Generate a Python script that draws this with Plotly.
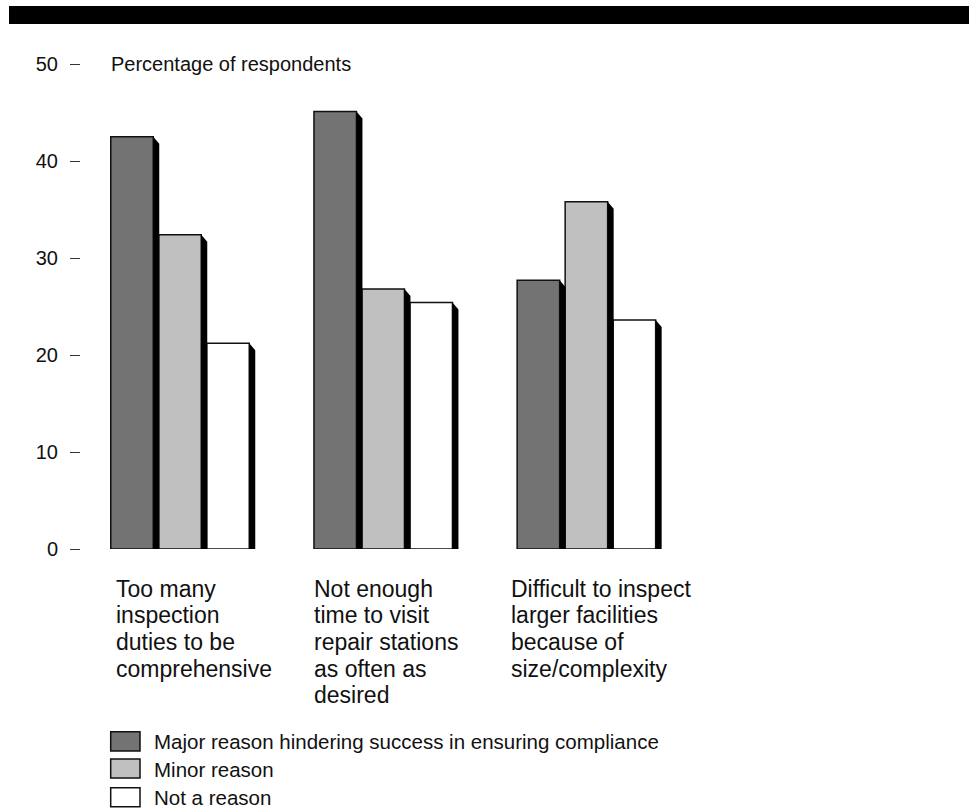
import plotly.graph_objects as go

# ---- data -------------------------------------------------------------
categories = [
    ["Too many", "inspection", "duties to be", "comprehensive"],
    ["Not enough", "time to visit", "repair stations", "as often as", "desired"],
    ["Difficult to inspect", "larger facilities", "because of", "size/complexity"],
]
series_names = [
    "Major reason hindering success in ensuring compliance",
    "Minor reason",
    "Not a reason",
]
major_reason = [42.5, 45.1, 27.7]
minor_reason = [32.4, 26.8, 35.8]
not_a_reason = [21.2, 25.4, 23.6]
y_ticks = [0, 10, 20, 30, 40, 50]
axis_title = "Percentage of respondents"

series_values = [major_reason, minor_reason, not_a_reason]
series_colors = ["#737373", "#c0c0c0", "#ffffff"]

# ---- layout geometry (pixels) -----------------------------------------
FIG_W, FIG_H = 969, 810
PLOT_L, PLOT_R = 81, 800
PLOT_T, PLOT_B = 64, 549
GROUP0_PX = 180.0      # centre of the first category group
GROUP_PX = 203.2       # distance between category groups
BAR_PX = 42.5          # bar width
STEP_PX = 48.0         # distance between bars inside a group
SHADOW_DX_PX = 6.0
SHADOW_DY_PX = 7.0
Y_MAX = 50
FONT = "Liberation Sans, Arial, Helvetica, sans-serif"
LABEL_NUDGE_PX = (3, -2, -8)   # hand placement of the category captions

px_per_unit_y = (PLOT_B - PLOT_T) / Y_MAX


def x_units(px):
    return px / GROUP_PX


def paper_x(px):
    return (px - PLOT_L) / (PLOT_R - PLOT_L)


def paper_y(py):
    return (PLOT_B - py) / (PLOT_B - PLOT_T)


x_range = [x_units(PLOT_L - GROUP0_PX), x_units(PLOT_R - GROUP0_PX)]
bar_w = x_units(BAR_PX)
step = x_units(STEP_PX)
cat_x = list(range(len(categories)))

fig = go.Figure()

# black drop-shadows on the right of every bar
for k, vals in enumerate(series_values):
    off = (k - 1) * step - bar_w / 2
    xs, ys = [], []
    for xi, v in zip(cat_x, vals):
        xr = xi + off + bar_w
        xd = xr + x_units(SHADOW_DX_PX)
        vd = v - SHADOW_DY_PX / px_per_unit_y
        xs += [xr, xd, xd, xr, xr, None]
        ys += [v, vd, 0, 0, v, None]
    fig.add_trace(go.Scatter(
        x=xs, y=ys, mode="lines", fill="toself", fillcolor="#000000",
        line=dict(width=0, color="#000000"), hoverinfo="skip", showlegend=False,
    ))

# the bars themselves
for k, (name, vals, col) in enumerate(zip(series_names, series_values, series_colors)):
    fig.add_trace(go.Bar(
        x=cat_x, y=vals, name=name,
        width=bar_w, offset=(k - 1) * step - bar_w / 2,
        marker=dict(color=col, line=dict(color="#111111", width=1.5)),
        showlegend=False,
    ))

annotations = []

# axis caption next to the top tick
annotations.append(dict(
    xref="paper", yref="paper", x=paper_x(109), y=1.0,
    xanchor="left", yanchor="middle", showarrow=False,
    text=axis_title, font=dict(family=FONT, size=20, color="#111111"),
))

# multi-line category labels under each group
LABEL_TOP_PX = 588.5
LINE_PX = 26.7
for xi, lines, nudge in zip(cat_x, categories, LABEL_NUDGE_PX):
    left = xi - step - bar_w / 2
    for j, line in enumerate(lines):
        annotations.append(dict(
            xref="x", yref="paper", x=left, y=paper_y(LABEL_TOP_PX + j * LINE_PX),
            xanchor="left", yanchor="middle", showarrow=False, align="left",
            xshift=nudge,
            text=line, font=dict(family=FONT, size=23, color="#111111"),
        ))

# hand-drawn legend
shapes = []
legend_rows = [(731.7, 751.0), (759.0, 778.0), (787.7, 806.7)]
for (y0, y1), name, col in zip(legend_rows, series_names, series_colors):
    shapes.append(dict(
        type="rect", xref="paper", yref="paper",
        x0=paper_x(110.7), x1=paper_x(140.0), y0=paper_y(y1), y1=paper_y(y0),
        fillcolor=col, line=dict(color="#111111", width=1.5), layer="above",
    ))
    annotations.append(dict(
        xref="paper", yref="paper", x=paper_x(152), y=paper_y((y0 + y1) / 2 + 0.5),
        xanchor="left", yanchor="middle", showarrow=False,
        text=name, font=dict(family=FONT, size=20.5, color="#111111"),
    ))

# heavy black rule across the top
shapes.append(dict(
    type="rect", xref="paper", yref="paper",
    x0=paper_x(9), x1=paper_x(FIG_W + 2), y0=paper_y(24), y1=paper_y(6),
    fillcolor="#000000", line=dict(width=0), layer="above",
))

fig.update_layout(
    width=FIG_W, height=FIG_H, autosize=False,
    margin=dict(l=PLOT_L, r=FIG_W - PLOT_R, t=PLOT_T, b=FIG_H - PLOT_B, pad=0),
    paper_bgcolor="#ffffff", plot_bgcolor="#ffffff",
    barmode="overlay", showlegend=False,
    font=dict(family=FONT, color="#111111"),
    xaxis=dict(range=x_range, visible=False, fixedrange=True),
    yaxis=dict(
        range=[0, Y_MAX], tickvals=y_ticks, ticktext=[str(t) for t in y_ticks],
        ticks="outside", ticklen=10, tickwidth=1, tickcolor="#333333",
        showline=False, showgrid=False, zeroline=False,
        tickfont=dict(family=FONT, size=20, color="#111111"),
        ticklabelstandoff=8, automargin=False, fixedrange=True,
    ),
    annotations=annotations, shapes=shapes,
)

fig.write_html("out.html")
